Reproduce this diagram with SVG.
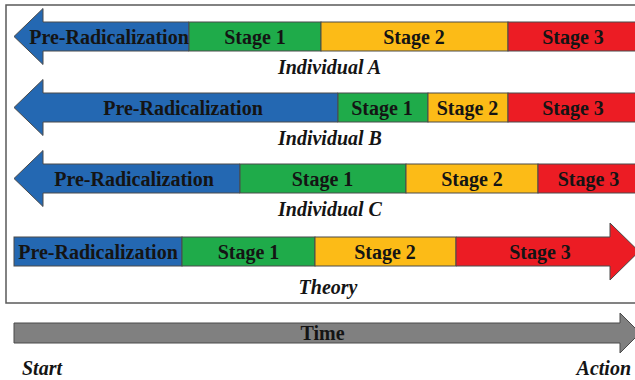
<svg xmlns="http://www.w3.org/2000/svg" width="635" height="380" viewBox="0 0 635 380">
  <style>
    .seg { stroke: #4a4a4a; stroke-width: 1; stroke-linejoin: miter; }
    .blue { fill: #2468b2; }
    .green { fill: #1fab4a; }
    .yellow { fill: #fcbb17; }
    .red { fill: #ec1c24; }
    .gray { fill: #808080; }
    text { font-family: 'Liberation Serif', 'Times New Roman', Times, serif; font-weight: bold; font-size: 20px; fill: #141414; }
    .lbl { text-anchor: middle; }
    .cap { font-style: italic; }
  </style>

  <!-- frame around the four timelines -->
  <rect x="6" y="5" width="640" height="298" fill="#ffffff" stroke="#5a5a5a" stroke-width="1.5"/>

  <!-- Individual A -->
  <g id="individual-a">
    <polygon class="seg blue" points="14,36.5 43,8.5 43,22 189,22 189,51 43,51 43,64.5"/>
    <rect class="seg green" x="189" y="22" width="132" height="29"/>
    <rect class="seg yellow" x="321" y="22" width="187" height="29"/>
    <rect class="seg red" x="508" y="22" width="132" height="29"/>
    <text class="lbl" x="109" y="43.5">Pre-Radicalization</text>
    <text class="lbl" x="255" y="43.5">Stage 1</text>
    <text class="lbl" x="414" y="43.5">Stage 2</text>
    <text class="lbl" x="573" y="43.5">Stage 3</text>
    <text class="cap" x="329.5" y="74" text-anchor="middle">Individual A</text>
  </g>

  <!-- Individual B -->
  <g id="individual-b">
    <polygon class="seg blue" points="14,107.5 43,79.5 43,93 338,93 338,122 43,122 43,135.5"/>
    <rect class="seg green" x="338" y="93" width="90" height="29"/>
    <rect class="seg yellow" x="428" y="93" width="80" height="29"/>
    <rect class="seg red" x="508" y="93" width="132" height="29"/>
    <text class="lbl" x="183" y="114.5">Pre-Radicalization</text>
    <text class="lbl" x="382" y="114.5">Stage 1</text>
    <text class="lbl" x="467.5" y="114.5">Stage 2</text>
    <text class="lbl" x="573" y="114.5">Stage 3</text>
    <text class="cap" x="330" y="144.5" text-anchor="middle">Individual B</text>
  </g>

  <!-- Individual C -->
  <g id="individual-c">
    <polygon class="seg blue" points="14,178.5 43,150.5 43,164 240,164 240,193 43,193 43,206.5"/>
    <rect class="seg green" x="240" y="164" width="166" height="29"/>
    <rect class="seg yellow" x="406" y="164" width="132" height="29"/>
    <rect class="seg red" x="538" y="164" width="102" height="29"/>
    <text class="lbl" x="134" y="185.5">Pre-Radicalization</text>
    <text class="lbl" x="322.5" y="185.5">Stage 1</text>
    <text class="lbl" x="472" y="185.5">Stage 2</text>
    <text class="lbl" x="588.5" y="185.5">Stage 3</text>
    <text class="cap" x="330" y="216" text-anchor="middle">Individual C</text>
  </g>

  <!-- Theory -->
  <g id="theory">
    <rect class="seg blue" x="14" y="237" width="168" height="29"/>
    <rect class="seg green" x="182" y="237" width="133" height="29"/>
    <rect class="seg yellow" x="315" y="237" width="141" height="29"/>
    <polygon class="seg red" points="456,237 610,237 610,223 639,251.5 610,280 610,266 456,266"/>
    <text class="lbl" x="98" y="258.5">Pre-Radicalization</text>
    <text class="lbl" x="248.5" y="258.5">Stage 1</text>
    <text class="lbl" x="385" y="258.5">Stage 2</text>
    <text class="lbl" x="540" y="258.5">Stage 3</text>
    <text class="cap" x="328" y="294" text-anchor="middle">Theory</text>
  </g>

  <!-- Time axis -->
  <g id="time">
    <polygon class="seg gray" points="14,323 620,323 620,313 640,333 620,353 620,343 14,343"/>
    <text class="lbl" x="322.5" y="339.5">Time</text>
    <text class="cap" x="22" y="375">Start</text>
    <text class="cap" x="631" y="375" text-anchor="end">Action</text>
  </g>
</svg>
